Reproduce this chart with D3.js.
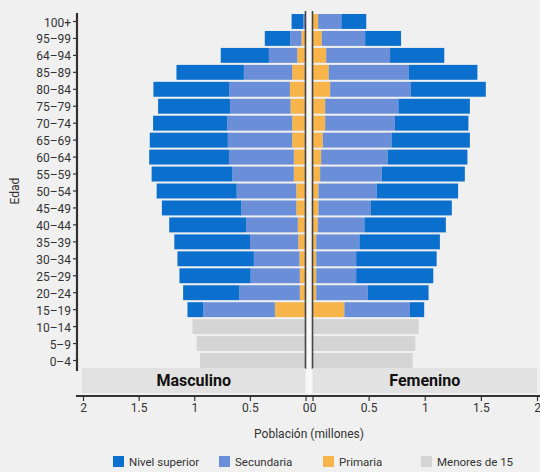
<!DOCTYPE html>
<html>
<head>
<meta charset="utf-8">
<script src="https://cdn.jsdelivr.net/npm/d3@7/dist/d3.min.js"></script>
<style>
    body { margin: 0; background: #f0f0f0; }
    text { font-family: Roboto, "Noto Sans", sans-serif; fill: #333; }
</style>
</head>
<body>
<script>
    // AGE GROUPS, TOP TO BOTTOM (LABELS AS IN THE SOURCE)
    var edades = ['100+', '95–99', '64–94', '85–89', '80–84', '75–79', '70–74', '65–69', '60–64', '55–59',
        '50–54', '45–49', '40–44', '35–39', '30–34', '25–29', '20–24', '15–19', '10–14', '5–9', '0–4'];

    var niveles = ['Primaria', 'Secundaria', 'Nivel superior', 'Menores de 15'];
    var colores = ['#f6b44b', '#6a8ed7', '#0b6fce', '#d4d4d4'];

    // MILLIONS - MASCULINO
    var mPrimaria   = [0.005, 0.036, 0.074, 0.12, 0.14, 0.135, 0.12, 0.12, 0.105, 0.105, 0.083, 0.083, 0.069, 0.065, 0.054, 0.051, 0.051, 0.275, 0, 0, 0];
    var mSecundaria = [0.015, 0.10, 0.255, 0.434, 0.547, 0.544, 0.583, 0.578, 0.583, 0.552, 0.535, 0.493, 0.466, 0.434, 0.41, 0.442, 0.543, 0.646, 0, 0, 0];
    var mSuperior   = [0.105, 0.23, 0.433, 0.606, 0.68, 0.646, 0.667, 0.702, 0.717, 0.726, 0.72, 0.715, 0.69, 0.68, 0.687, 0.64, 0.506, 0.14, 0, 0, 0];
    var mMenores    = [0, 0, 0, 0, 0, 0, 0, 0, 0, 0, 0, 0, 0, 0, 0, 0, 0, 0, 1.016, 0.978, 0.948];

    // MILLIONS - FEMENINO
    var fPrimaria   = [0.05, 0.083, 0.122, 0.145, 0.157, 0.113, 0.113, 0.092, 0.077, 0.068, 0.053, 0.053, 0.047, 0.033, 0.033, 0.033, 0.033, 0.284, 0, 0, 0];
    var fSecundaria = [0.207, 0.386, 0.569, 0.711, 0.72, 0.652, 0.622, 0.613, 0.592, 0.548, 0.518, 0.468, 0.415, 0.385, 0.356, 0.356, 0.459, 0.584, 0, 0, 0];
    var fSuperior   = [0.222, 0.32, 0.483, 0.613, 0.667, 0.637, 0.654, 0.697, 0.711, 0.741, 0.726, 0.72, 0.726, 0.717, 0.717, 0.687, 0.542, 0.127, 0, 0, 0];
    var fMenores    = [0, 0, 0, 0, 0, 0, 0, 0, 0, 0, 0, 0, 0, 0, 0, 0, 0, 0, 0.945, 0.916, 0.892];

    var xTicks = [0, 0.5, 1, 1.5, 2];

    var W = 540, H = 472;

    var svg = d3.select('body').append('svg')
            .attr('width', W)
            .attr('height', H);

    var y = d3.scaleBand()
            .domain(edades)
            .range([13, 369])
            .paddingInner(0.12)
            .paddingOuter(0.06);

    var xL = d3.scaleLinear().domain([2, 0]).range([83, 305.5]);
    var xR = d3.scaleLinear().domain([0, 2]).range([312.5, 537]);

    function rows(p, s, n, m) {
        return edades.map(function (e, i) {
            return {edad: e, 'Primaria': p[i], 'Secundaria': s[i], 'Nivel superior': n[i], 'Menores de 15': m[i]};
        });
    }

    var stack = d3.stack().keys(niveles);
    var mStack = stack(rows(mPrimaria, mSecundaria, mSuperior, mMenores));
    var fStack = stack(rows(fPrimaria, fSecundaria, fSuperior, fMenores));

    // LIGHT GAP BETWEEN PANELS
    svg.append('rect')
            .attr('x', xL(0))
            .attr('y', 11)
            .attr('width', xR(0) - xL(0))
            .attr('height', 382)
            .attr('fill', '#f8f8f8');

    // BARS
    function drawSide(data, x, cls) {
        svg.append('g').attr('class', cls)
                .selectAll('g')
                .data(data)
                .join('g')
                .attr('fill', function (d, i) { return colores[i]; })
                .selectAll('rect')
                .data(function (d) { return d; })
                .join('rect')
                .attr('y', function (d) { return y(d.data.edad); })
                .attr('height', y.bandwidth())
                .attr('x', function (d) { return Math.min(x(d[0]), x(d[1])); })
                .attr('width', function (d) { return Math.abs(x(d[1]) - x(d[0])); });
    }
    drawSide(mStack, xL, 'masc');
    drawSide(fStack, xR, 'fem');

    // PANEL ZERO LINES
    [xL(0), xR(0)].forEach(function (px) {
        svg.append('line')
                .attr('x1', px).attr('x2', px)
                .attr('y1', 11).attr('y2', 369)
                .attr('stroke', '#444')
                .attr('stroke-width', 1.6);
    });

    // FACET STRIPS
    var strips = [{t: 'Masculino', x0: xL(2) - 1, x1: xL(0)}, {t: 'Femenino', x0: xR(0), x1: xR(2)}];
    strips.forEach(function (s) {
        svg.append('rect')
                .attr('x', s.x0).attr('y', 368)
                .attr('width', s.x1 - s.x0).attr('height', 25)
                .attr('fill', '#e2e2e2');
        svg.append('text')
                .attr('x', (s.x0 + s.x1) / 2)
                .attr('y', 386)
                .attr('text-anchor', 'middle')
                .attr('font-size', 16)
                .attr('font-weight', 'bold')
                .style('fill', '#111')
                .text(s.t);
    });

    // Y AXIS
    var yAxis = svg.append('g')
            .attr('transform', 'translate(77,0)')
            .call(d3.axisLeft(y).tickSize(4).tickSizeOuter(0));
    yAxis.select('.domain').attr('stroke', '#333').attr('stroke-width', 2.2)
            .attr('d', 'M0,13V371');
    yAxis.selectAll('.tick line').attr('stroke', '#333').attr('stroke-width', 1.2);
    yAxis.selectAll('.tick text').attr('font-size', 12).attr('x', -6).attr('dy', '0.42em')
            .style('font-family', 'Roboto, sans-serif').style('fill', '#333');

    // X AXES
    svg.append('line')
            .attr('x1', 76).attr('x2', 540)
            .attr('y1', 396).attr('y2', 396)
            .attr('stroke', '#333').attr('stroke-width', 2);

    [xL, xR].forEach(function (x) {
        var ax = svg.append('g')
                .attr('transform', 'translate(0,396)')
                .call(d3.axisBottom(x).tickValues(xTicks).tickSize(5).tickSizeOuter(0)
                        .tickFormat(d3.format('')));
        ax.select('.domain').remove();
        ax.selectAll('.tick line').attr('stroke', '#333').attr('stroke-width', 1.2);
        ax.selectAll('.tick text').attr('font-size', 12).attr('y', 7)
                .style('font-family', 'Roboto, sans-serif').style('fill', '#333');
    });

    // AXIS TITLES
    svg.append('text')
            .attr('x', 309).attr('y', 438)
            .attr('text-anchor', 'middle')
            .attr('font-size', 12)
            .text('Población (millones)');

    svg.append('text')
            .attr('transform', 'translate(19,191) rotate(-90)')
            .attr('text-anchor', 'middle')
            .attr('font-size', 12)
            .text('Edad');

    // LEGEND
    var leyenda = [
        {t: 'Nivel superior', c: colores[2], x: 113},
        {t: 'Secundaria', c: colores[1], x: 219},
        {t: 'Primaria', c: colores[0], x: 323},
        {t: 'Menores de 15', c: colores[3], x: 421}
    ];
    var lg = svg.append('g').selectAll('g')
            .data(leyenda)
            .join('g')
            .attr('transform', function (d) { return 'translate(' + d.x + ',456)'; });
    lg.append('rect')
            .attr('width', 11).attr('height', 11)
            .attr('fill', function (d) { return d.c; });
    lg.append('text')
            .attr('x', 16).attr('y', 10)
            .attr('font-size', 11.5)
            .text(function (d) { return d.t; });
</script>
</body>
</html>
